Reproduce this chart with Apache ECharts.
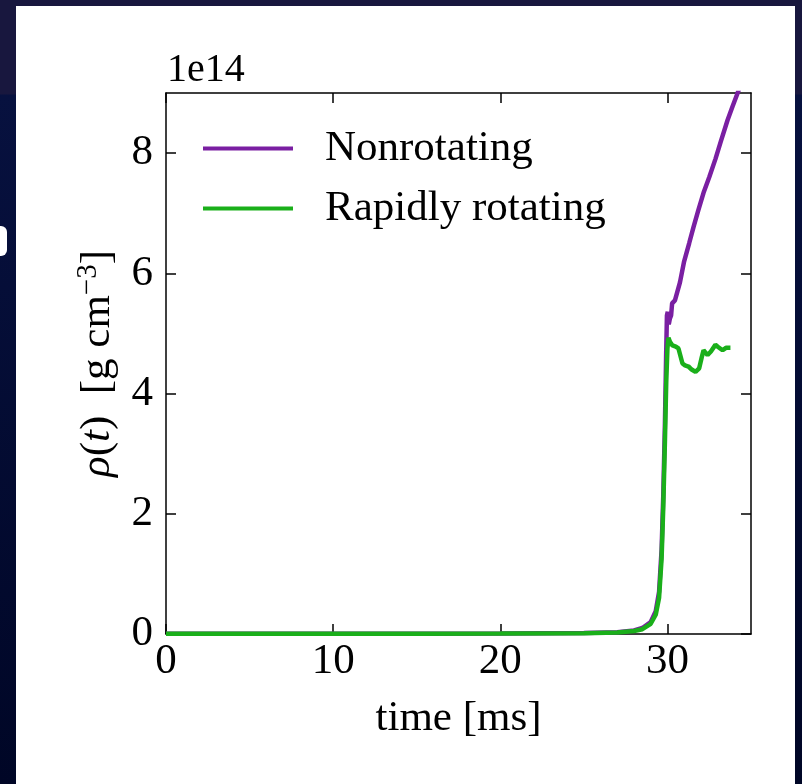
<!DOCTYPE html>
<html>
<head>
<meta charset="utf-8">
<script src="https://cdn.jsdelivr.net/npm/echarts@6/dist/echarts.min.js"></script>
<style>
  html, body { margin: 0; padding: 0; }
  body {
    width: 802px; height: 784px; overflow: hidden; position: relative;
    background: linear-gradient(to bottom, #18173e 0px, #18173e 94px, #07113f 95px, #000626 784px);
  }
  #panel { position: absolute; left: 16px; top: 6px; width: 779px; height: 778px; background: #ffffff; }
  #frag { position: absolute; left: 0px; top: 226px; width: 7px; height: 30px; background: #ffffff; border-radius: 0 6px 6px 0; }
  #chart { position: absolute; left: 0; top: 0; width: 802px; height: 784px; }
</style>
</head>
<body>
<div id="frag"></div>
<div id="panel"></div>
<div id="chart"></div>
<script>
// time in ms, density in units of 1e14 g/cm^3
const timeNonrot = [0, 5, 10, 15, 20, 25, 27, 28, 28.5, 29, 29.3, 29.5, 29.65, 29.75, 29.85, 29.92, 29.97, 30.02, 30.08, 30.15, 30.22, 30.28, 30.36, 30.45, 30.6, 30.75, 31.0, 31.3, 31.56, 31.85, 32.16, 32.5, 32.87, 33.2, 33.6, 33.9, 34.2, 34.4];
const rhoNonrot = [0.005, 0.005, 0.005, 0.006, 0.008, 0.015, 0.03, 0.06, 0.1, 0.2, 0.38, 0.7, 1.4, 2.3, 3.5, 4.6, 5.3, 5.36, 5.15, 5.25, 5.3, 5.5, 5.52, 5.55, 5.7, 5.85, 6.2, 6.5, 6.77, 7.05, 7.34, 7.6, 7.9, 8.2, 8.55, 8.78, 9.0, 9.15];
const timeRot = [0, 5, 10, 15, 20, 25, 27, 28, 28.5, 29, 29.3, 29.5, 29.65, 29.75, 29.85, 29.93, 30.0, 30.06, 30.15, 30.3, 30.5, 30.66, 30.9, 31.05, 31.26, 31.45, 31.68, 31.9, 32.05, 32.16, 32.4, 32.6, 32.87, 33.05, 33.3, 33.5, 33.77];
const rhoRot = [0.005, 0.005, 0.005, 0.006, 0.008, 0.012, 0.025, 0.05, 0.08, 0.17, 0.32, 0.6, 1.25, 2.1, 3.2, 4.2, 4.75, 4.93, 4.86, 4.8, 4.78, 4.75, 4.5, 4.47, 4.45, 4.4, 4.36, 4.42, 4.6, 4.72, 4.64, 4.7, 4.81, 4.77, 4.72, 4.76, 4.76];
const xRange = [0, 35];
const yRange = [0, 9];
const xTickValues = [0, 10, 20, 30];
const yTickValues = [0, 2, 4, 6, 8];
const seriesNames = ['Nonrotating', 'Rapidly rotating'];
const colors = ['#7a1fa2', '#1aaf1a'];

const FONT = '"Liberation Serif", "DejaVu Serif", serif';
const FS = 43;
const chart = echarts.init(document.getElementById('chart'), null, { renderer: 'canvas' });

function axisLine() { return { show: true, onZero: false, lineStyle: { color: '#000', width: 1.5 } }; }
function tickIn(vals) { return { show: true, inside: true, length: 10, customValues: vals, lineStyle: { color: '#000', width: 1.5 } }; }

chart.setOption({
  backgroundColor: 'transparent',
  animation: false,
  grid: { left: 166, right: 51, top: 93, bottom: 150, containLabel: false },
  legend: {
    orient: 'vertical',
    left: 198,
    top: 122,
    icon: 'rect',
    itemWidth: 90,
    itemHeight: 4,
    itemGap: 17,
    data: seriesNames,
    textStyle: { fontFamily: FONT, fontSize: FS, color: '#000', lineHeight: 43, padding: [0, 0, 0, 27] }
  },
  graphic: [
    { type: 'text', left: 167, top: 50, style: { text: '1e14', fontFamily: FONT, fontSize: 40, fill: '#000' } }
  ],
  xAxis: [
    {
      type: 'value', position: 'bottom', min: xRange[0], max: xRange[1],
      axisLine: axisLine(), axisTick: tickIn(xTickValues), splitLine: { show: false },
      axisLabel: { customValues: xTickValues, fontFamily: FONT, fontSize: FS, color: '#000', margin: 6 },
      name: 'time [ms]', nameLocation: 'middle', nameGap: 63,
      nameTextStyle: { fontFamily: FONT, fontSize: FS, color: '#000' }
    },
    {
      type: 'value', position: 'top', min: xRange[0], max: xRange[1],
      axisLine: axisLine(), axisTick: tickIn(xTickValues), splitLine: { show: false }, axisLabel: { show: false }
    }
  ],
  yAxis: [
    {
      type: 'value', position: 'left', min: yRange[0], max: yRange[1],
      axisLine: axisLine(), axisTick: tickIn(yTickValues), splitLine: { show: false },
      axisLabel: { customValues: yTickValues, fontFamily: FONT, fontSize: FS, color: '#000', margin: 13 },
      name: '{i|ρ}({i|t})  [g cm{sup|−3}]', nameLocation: 'middle', nameGap: 45, nameRotate: 90,
      nameTextStyle: {
        fontFamily: FONT, fontSize: FS, color: '#000',
        rich: {
          i: { fontFamily: FONT, fontSize: FS, fontStyle: 'italic', color: '#000' },
          sup: { fontFamily: FONT, fontSize: 29, color: '#000', verticalAlign: 'top', padding: [0, 0, 18, 0] }
        }
      }
    },
    {
      type: 'value', position: 'right', min: yRange[0], max: yRange[1],
      axisLine: axisLine(), axisTick: tickIn(yTickValues), splitLine: { show: false }, axisLabel: { show: false }
    }
  ],
  series: [
    {
      name: seriesNames[0], type: 'line', xAxisIndex: 0, yAxisIndex: 0,
      data: timeNonrot.map((t, i) => [t, rhoNonrot[i]]),
      showSymbol: false, symbol: 'none', clip: true,
      lineStyle: { color: colors[0], width: 4.5 }, itemStyle: { color: colors[0] }, z: 3
    },
    {
      name: seriesNames[1], type: 'line', xAxisIndex: 0, yAxisIndex: 0,
      data: timeRot.map((t, i) => [t, rhoRot[i]]),
      showSymbol: false, symbol: 'none', clip: true,
      lineStyle: { color: colors[1], width: 4.5 }, itemStyle: { color: colors[1] }, z: 4
    }
  ]
});
</script>
</body>
</html>
